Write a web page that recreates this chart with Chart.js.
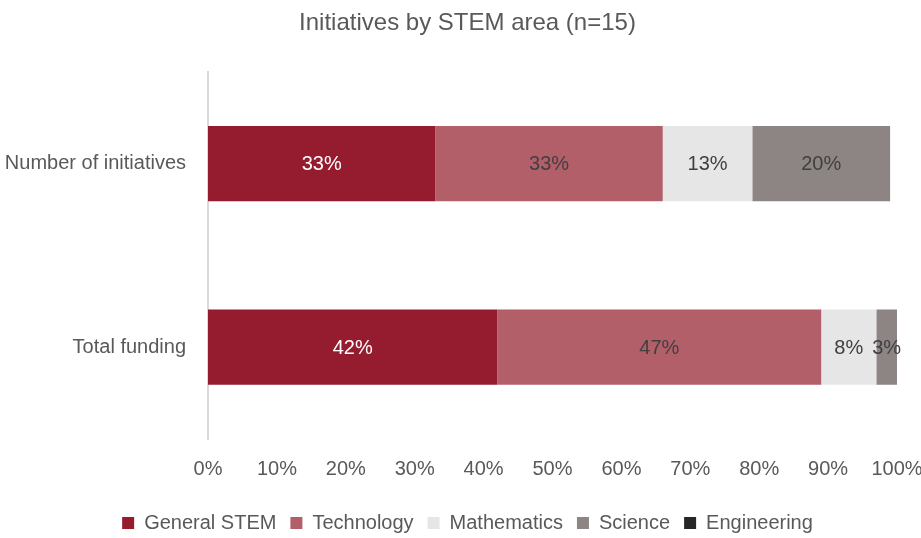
<!DOCTYPE html>
<html>
<head>
<meta charset="utf-8">
<script src="https://cdn.jsdelivr.net/npm/chart.js@4.4.1/dist/chart.umd.min.js"></script>
<style>
  html, body { margin: 0; padding: 0; background: #fff; }
  #wrap { width: 921px; height: 538px; }
</style>
</head>
<body>
<div id="wrap"><canvas id="chart-stem"></canvas></div>
<script>
/* ── Data ─────────────────────────────────────────────── */
const CATEGORIES   = ['Number of initiatives', 'Total funding'];
const GENERAL_STEM = [33, 42];
const TECHNOLOGY   = [33, 47];
const MATHEMATICS  = [13, 8];
const SCIENCE      = [20, 3];
const ENGINEERING  = [0, 0];
const X_TICKS      = [0, 10, 20, 30, 40, 50, 60, 70, 80, 90, 100];

const FONT = "'Liberation Sans Narrow', 'Arial Narrow', 'Liberation Sans', sans-serif";
const GREY = '#595959';

/* ── Inline data-label plugin (segment centres) ─────── */
const segmentLabels = {
  id: 'segmentLabels',
  afterDatasetsDraw(chart) {
    const { ctx } = chart;
    ctx.save();
    ctx.font = `20px ${FONT}`;
    ctx.textAlign = 'center';
    ctx.textBaseline = 'middle';
    chart.data.datasets.forEach((ds, i) => {
      const meta = chart.getDatasetMeta(i);
      if (meta.hidden) return;
      meta.data.forEach((bar, j) => {
        const v = ds.data[j];
        if (!v) return;
        const p = bar.getCenterPoint();
        ctx.fillStyle = ds.labelColor;
        ctx.fillText(`${v}%`, p.x, p.y + 1);
      });
    });
    ctx.restore();
  },
};

const mkSet = (label, data, color, labelColor) => ({
  label, data,
  backgroundColor: color,
  borderWidth:     0,
  labelColor,
  categoryPercentage: 1,
  barPercentage:      0.41,
});

new Chart(document.getElementById('chart-stem').getContext('2d'), {
  type: 'bar',
  data: {
    labels: CATEGORIES,
    datasets: [
      mkSet('General STEM', GENERAL_STEM, '#951B2F', '#ffffff'),
      mkSet('Technology',   TECHNOLOGY,   '#B25F6A', '#404040'),
      mkSet('Mathematics',  MATHEMATICS,  '#E6E6E6', '#404040'),
      mkSet('Science',      SCIENCE,      '#8C8584', '#404040'),
      mkSet('Engineering',  ENGINEERING,  '#262626', '#404040'),
    ],
  },
  plugins: [segmentLabels],
  options: {
    indexAxis: 'y',
    responsive: true,
    maintainAspectRatio: false,
    animation: false,
    layout: { padding: { left: 0, right: -14, top: 0, bottom: -5 } },
    plugins: {
      title: {
        display: true,
        text: 'Initiatives by STEM area (n=15)',
        color: GREY,
        font: { family: FONT, size: 24, weight: 'normal' },
        padding: { top: 9, bottom: 34 },
      },
      legend: {
        position: 'bottom',
        labels: {
          color: GREY,
          font: { family: FONT, size: 20 },
          boxWidth: 12, boxHeight: 12,
          padding: 14,
        },
      },
      tooltip: { enabled: false },
    },
    scales: {
      x: {
        stacked: true,
        min: 0, max: 100,
        afterBuildTicks: axis => { axis.ticks = X_TICKS.map(v => ({ value: v })); },
        afterFit: axis => { axis.paddingRight = 24; },
        ticks: {
          color: GREY,
          font: { family: FONT, size: 20 },
          padding: 18,
          callback: v => `${v}%`,
        },
        grid:   { display: false, drawTicks: false },
        border: { display: false },
      },
      y: {
        stacked: true,
        afterFit: axis => { axis.width = 208; },
        ticks: {
          color: GREY,
          font: { family: FONT, size: 20 },
          padding: 22,
        },
        grid:   { display: false, drawTicks: false },
        border: { display: true, color: '#D9D9D9', width: 2 },
      },
    },
  },
});
</script>
</body>
</html>
